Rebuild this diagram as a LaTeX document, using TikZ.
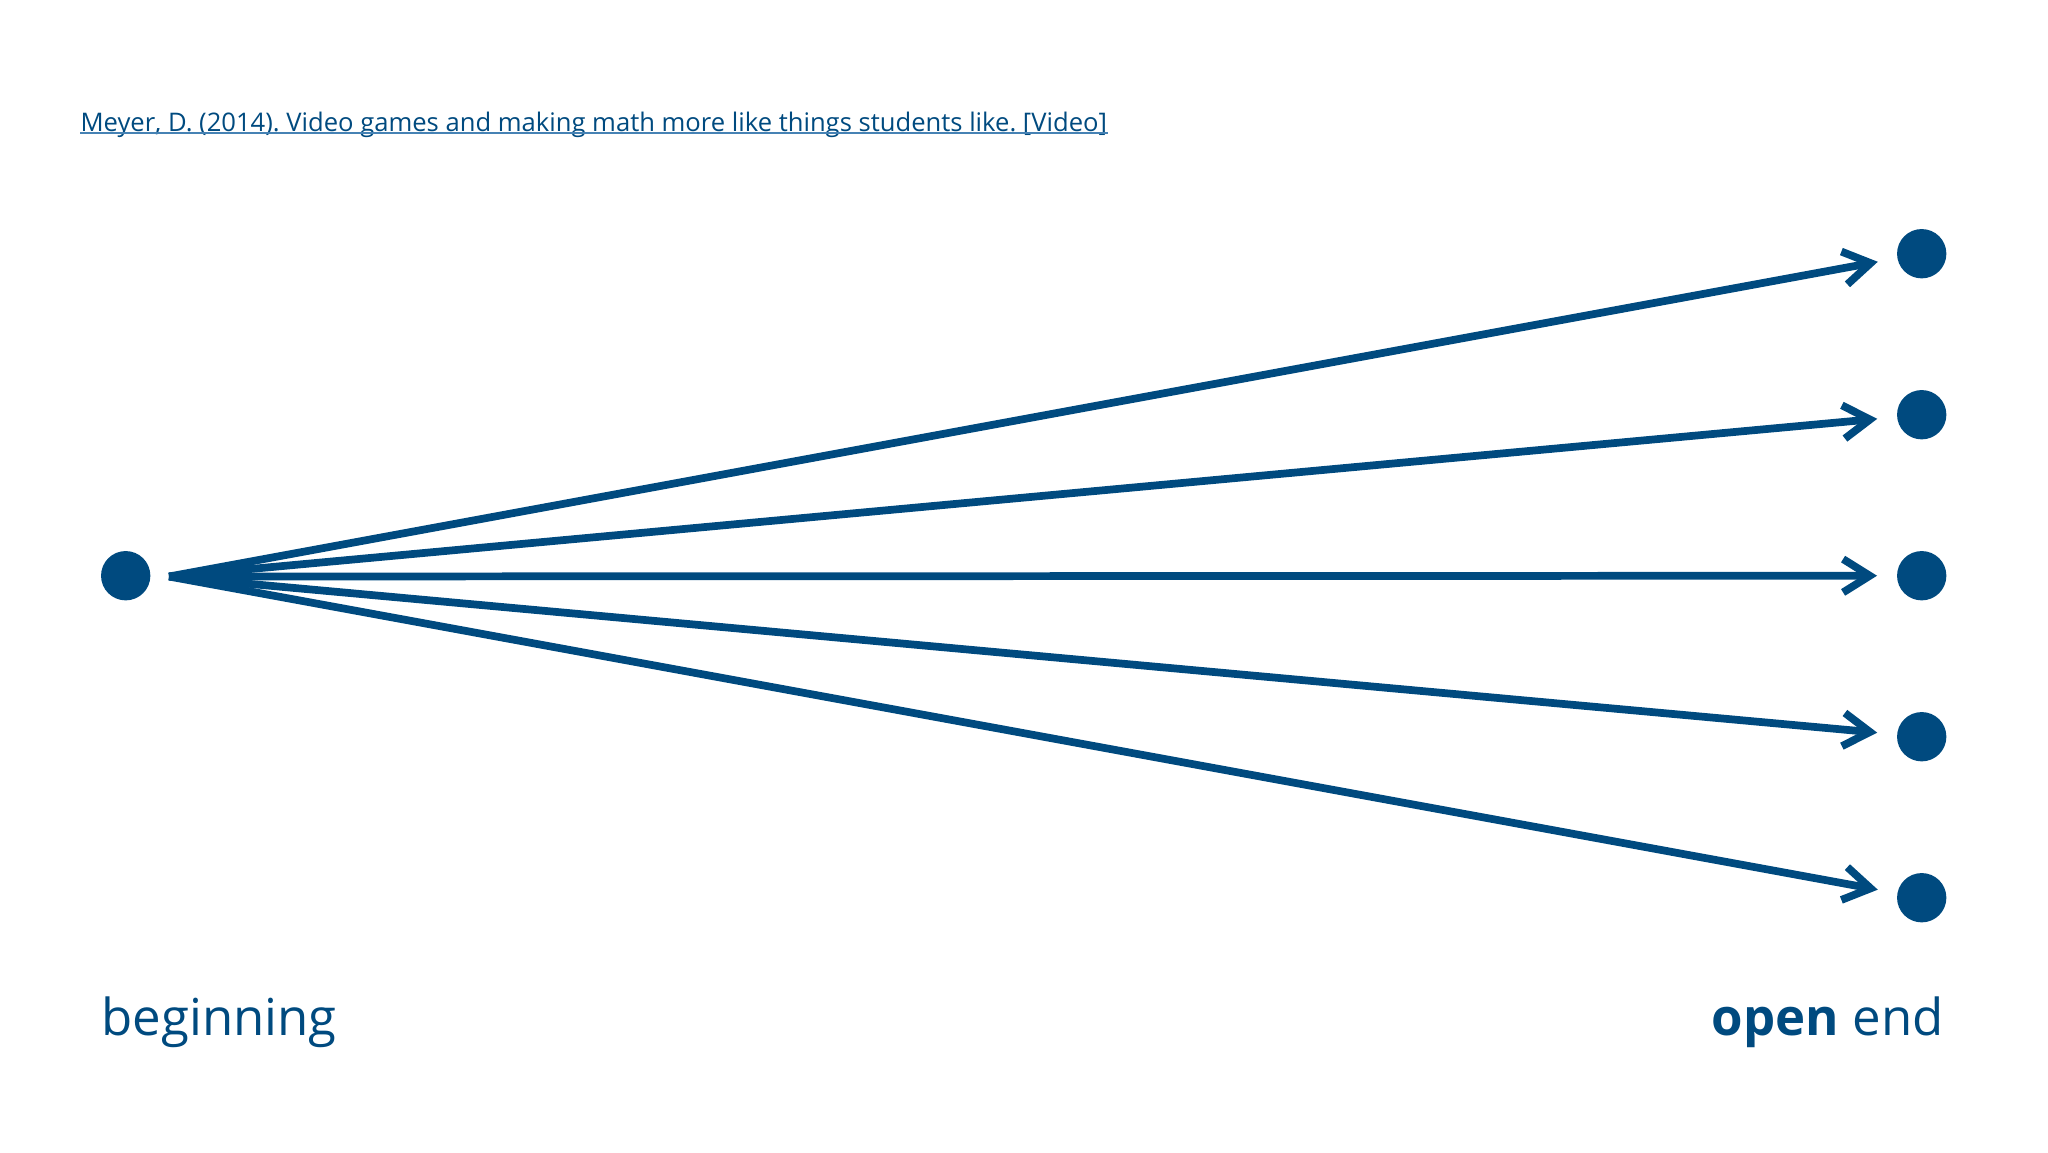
\documentclass[tikz,border=0pt]{standalone}
\usepackage{fontspec}
\setmainfont{Open Sans}
\usetikzlibrary{arrows.meta}
\definecolor{navy}{RGB}{0,74,127}
\definecolor{ulblue}{RGB}{70,130,180}
\frenchspacing
\begin{document}
\begin{tikzpicture}[x=0.375pt,y=-0.375pt,
  dot/.style={circle,fill=navy,inner sep=0pt,minimum size=18.5pt},
  arrowline/.style={draw=navy,line width=2.9pt,shorten >=7.3pt,
    -{Straight Barb[length=10pt,width=12.5pt]}},
  lbl/.style={inner sep=0pt,text=navy,font=\fontsize{19.1pt}{23pt}\selectfont}]
\useasboundingbox (0,0) rectangle (2048,1152);
\node[inner sep=0pt,anchor=base west,text=navy,font=\fontsize{9.6pt}{11.5pt}\selectfont] (cite) at (80,131)
  {Meyer, D. (2014). Video games and making math more like things students like. [Video]};
\draw[ulblue,line width=0.7pt] ([yshift=-0.9pt]cite.base west) -- ([yshift=-0.9pt]cite.base east);
\node[dot] (b) at (125.7,575.7) {};
\coordinate (s) at (169,576.5);
\foreach \i/\y in {1/253.7,2/414.7,3/575.7,4/736.7,5/897.7}{
  \node[dot] (e\i) at (1921.7,\y) {};
  \draw[arrowline] (s) -- (e\i);
}
\node[lbl,anchor=base west] (lb) at (101,1035) {beginning};
\node[lbl,anchor=base east] (le) at (1944,1035) {\textbf{open} end};
\end{tikzpicture}
\end{document}
